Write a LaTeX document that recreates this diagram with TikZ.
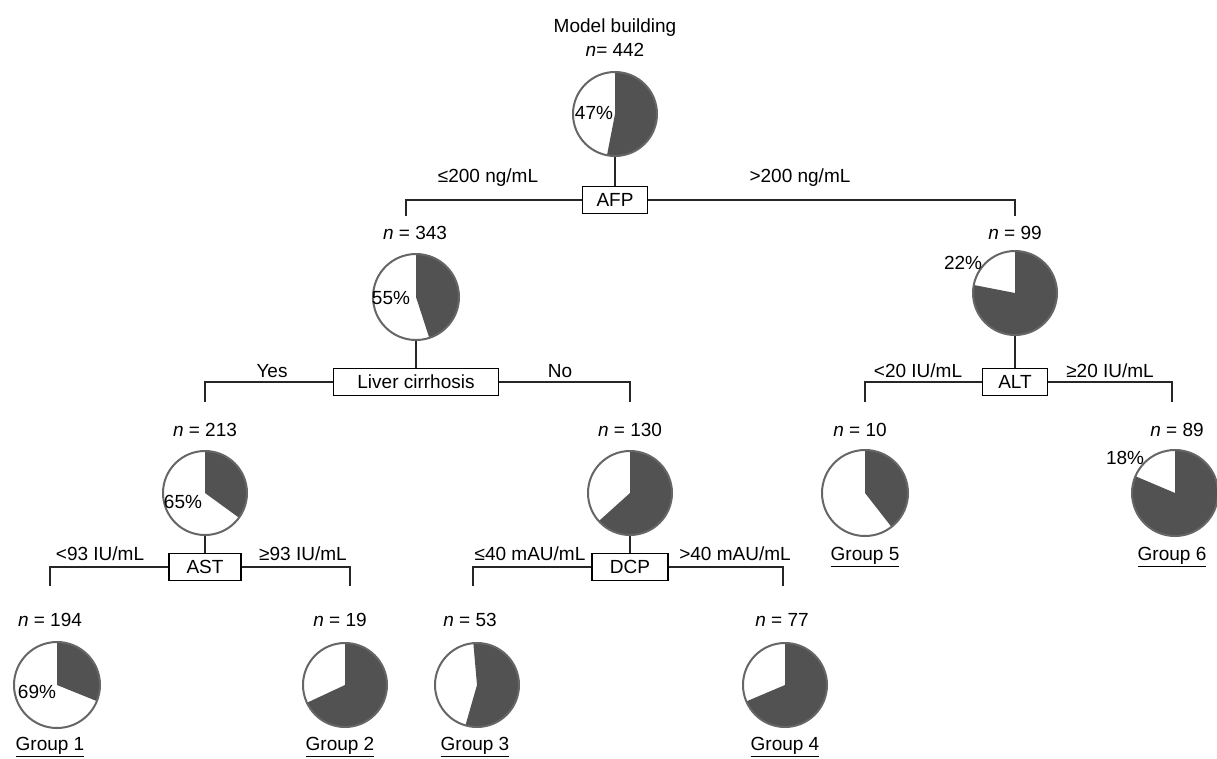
\documentclass[tikz,border=0pt]{standalone}
\usepackage{fontspec}
\setmainfont{Liberation Sans}
\newcommand\piechart[6]{% name, x, y, r, white start, white end (ccw)
  \fill[black!68] (#2,#3) -- ++(#6:#4) arc[start angle=#6, end angle={#5+360}, radius=#4] -- cycle;
  \node[piec=2*#4] (#1) at (#2,#3) {};
}
\begin{document}
\begin{tikzpicture}[x=1pt,y=1pt, font=\fontsize{19}{22}\selectfont,
  box/.style={draw=black, line width=1.3pt, fill=white, minimum height=27pt, inner sep=0pt},
  conn/.style={draw=black!85, line width=1.4pt},
  piec/.style={circle, draw=black!60, line width=2pt, minimum size=#1, inner sep=0pt},
  txt/.style={inner sep=0pt}]
\useasboundingbox (0,-758) rectangle (1217,0);

% ---- level 0
\node[txt] (title) at (615,-28) {Model building};
\node[txt] (n0) at (615,-50) {\textit{n}= 442};
\piechart{p0}{615}{-114}{42}{90}{259}
\node[txt] (l0) at (594,-113) {47\%};

\node[box, minimum width=65pt] (afp) at (615,-200) {AFP};
\coordinate (dA1) at (406,-216);
\coordinate (dA2) at (1015,-216);
\draw[conn] (p0.south) -- (afp.north);
\draw[conn] (afp.west) -| (dA1);
\draw[conn] (afp.east) -| (dA2);
\node[txt] (afpl) at (488,-178) {≤200 ng/mL};
\node[txt] (afpr) at (800,-178) {>200 ng/mL};

% ---- level 1
\node[txt] (n343) at (415,-233) {\textit{n} = 343};
\piechart{p343}{416}{-297}{43}{90}{288}
\node[txt] (l343) at (391,-298) {55\%};

\node[txt] (n99) at (1015,-233) {\textit{n} = 99};
\piechart{p99}{1015}{-293}{42}{90}{169}
\node[txt] (l99) at (963,-263) {22\%};

\node[box, minimum width=165pt] (liver) at (416,-382) {Liver cirrhosis};
\coordinate (dL1) at (205,-402);
\coordinate (dL2) at (630,-402);
\draw[conn] (p343.south) -- (liver.north);
\draw[conn] (liver.west) -| (dL1);
\draw[conn] (liver.east) -| (dL2);
\node[txt] (yes) at (272,-371) {Yes};
\node[txt] (no) at (560,-371) {No};

\node[box, minimum width=65pt] (alt) at (1015,-382) {ALT};
\coordinate (dT1) at (865,-402);
\coordinate (dT2) at (1172,-402);
\draw[conn] (p99.south) -- (alt.north);
\draw[conn] (alt.west) -| (dT1);
\draw[conn] (alt.east) -| (dT2);
\node[txt] (altl) at (918,-371) {<20 IU/mL};
\node[txt] (altr) at (1110,-371) {≥20 IU/mL};

% ---- level 2
\node[txt] (n213) at (205,-430) {\textit{n} = 213};
\piechart{p213}{205}{-493}{42}{90}{324}
\node[txt] (l213) at (183,-502) {65\%};

\node[txt] (n130) at (630,-430) {\textit{n} = 130};
\piechart{p130}{630}{-493}{42}{90}{222}

\node[txt] (n10) at (860,-430) {\textit{n} = 10};
\piechart{p10}{865}{-493}{43}{90}{308}
\node[txt] (g5) at (865,-557) {\underline{Group 5}};

\node[txt] (n89) at (1177,-430) {\textit{n} = 89};
\piechart{p89}{1175}{-493}{43}{90}{157}
\node[txt] (l89) at (1125,-458) {18\%};
\node[txt] (g6) at (1172,-557) {\underline{Group 6}};

\node[box, minimum width=72pt] (ast) at (205,-567) {AST};
\coordinate (dS1) at (50,-586);
\coordinate (dS2) at (350,-586);
\draw[conn] (p213.south) -- (ast.north);
\draw[conn] (ast.west) -| (dS1);
\draw[conn] (ast.east) -| (dS2);
\node[txt] (astl) at (100,-554) {<93 IU/mL};
\node[txt] (astr) at (303,-554) {≥93 IU/mL};

\node[box, minimum width=76pt] (dcp) at (630,-567) {DCP};
\coordinate (dD1) at (473,-586);
\coordinate (dD2) at (783,-586);
\draw[conn] (p130.south) -- (dcp.north);
\draw[conn] (dcp.west) -| (dD1);
\draw[conn] (dcp.east) -| (dD2);
\node[txt] (dcpl) at (530,-554) {≤40 mAU/mL};
\node[txt] (dcpr) at (735,-554) {>40 mAU/mL};

% ---- level 3
\node[txt] (n194) at (50,-620) {\textit{n} = 194};
\piechart{p194}{57}{-685}{43}{90}{338}
\node[txt] (l194) at (37,-692) {69\%};
\node[txt] (g1) at (50,-747) {\underline{Group 1}};

\node[txt] (n19) at (340,-620) {\textit{n} = 19};
\piechart{p19}{345}{-685}{42}{90}{205}
\node[txt] (g2) at (340,-747) {\underline{Group 2}};

\node[txt] (n53) at (470,-620) {\textit{n} = 53};
\piechart{p53}{477}{-685}{42}{95}{254}
\node[txt] (g3) at (475,-747) {\underline{Group 3}};

\node[txt] (n77) at (782,-620) {\textit{n} = 77};
\piechart{p77}{785}{-685}{42}{90}{203}
\node[txt] (g4) at (785,-747) {\underline{Group 4}};
\end{tikzpicture}
\end{document}
